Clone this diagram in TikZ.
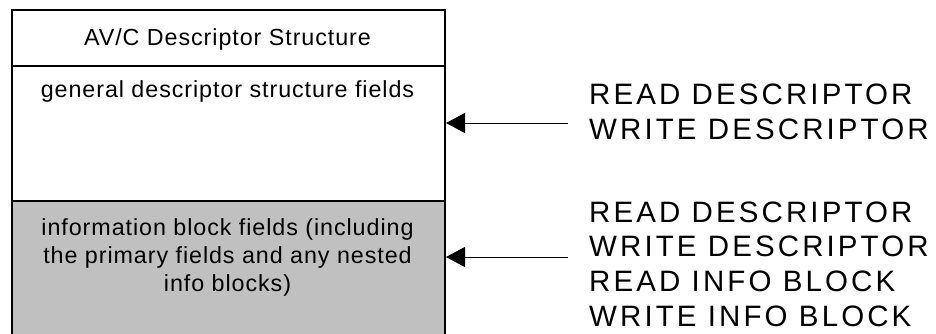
\documentclass[tikz,border=0pt]{standalone}
\usepackage{fontspec}
\setmainfont{Liberation Sans}
\newfontfamily\boxfont[LetterSpace=4]{Liberation Sans}
\newfontfamily\cmdfont[LetterSpace=10.5]{Liberation Sans}
\usepackage{tikz}
\usetikzlibrary{arrows.meta,positioning,calc}
\usepackage{xcolor}
\definecolor{infogray}{HTML}{C0C0C0}
\tikzset{
  section/.style={draw=black,line width=2pt,minimum width=433pt,inner sep=0pt,
    anchor=north west},
  boxtext/.style={font=\boxfont\fontsize{23.3}{28}\selectfont,inner sep=0pt,
    align=center,anchor=base},
  cmdtext/.style={font=\cmdfont\fontsize{29.5}{34.8}\selectfont,inner sep=0pt,
    align=left,anchor=base west},
  arrow/.style={-{Triangle[length=19pt,width=20pt]},draw=black,line width=1pt}
}
\begin{document}
\begin{tikzpicture}[x=1pt,y=-1pt]
        \useasboundingbox (0,0) rectangle (936,333);
        \clip (0,0) rectangle (936,333);
        % descriptor structure, cut off at the bottom
        \node[section,minimum height=56.3pt] (hdr) at (11,8.7) {};
        \node[section,minimum height=135pt] (gen) at (11,65) {};
        \node[section,minimum height=160pt,fill=infogray] (info) at (11,200) {};
        \node[boxtext] (hdrtext) at (227.5,45) {AV/C Descriptor Structure};
        \node[boxtext] (gentext) at (227.5,97) {general descriptor structure fields};
        % base anchor sits on the last line
        \node[boxtext] (infotext) at (227.5,291.7) {information block fields (including\\the primary fields and any nested\\info blocks)};
        % commands
        \node[cmdtext] (gencmd) at (589,139.5) {READ DESCRIPTOR\\WRITE DESCRIPTOR};
        \node[cmdtext] (infocmd) at (589,326.4) {READ DESCRIPTOR\\WRITE DESCRIPTOR\\READ INFO BLOCK\\WRITE INFO BLOCK};
        \coordinate (gentail) at (568,123);
        \coordinate (infotail) at (568,257);
        \draw[arrow] (gentail) -- (gentail -| gen.east);
        \draw[arrow] (infotail) -- (infotail -| info.east);
      \end{tikzpicture}
\end{document}
